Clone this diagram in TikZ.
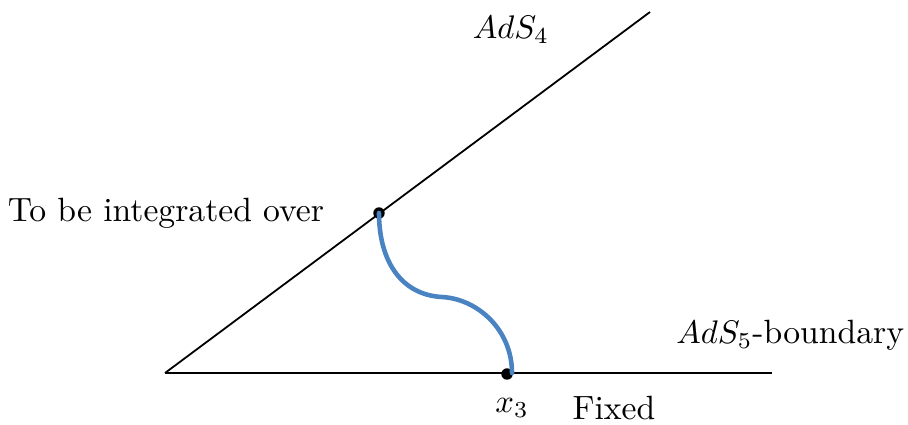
\documentclass[tikz,border=0pt]{standalone}
\usepackage{amsmath,amssymb}
\usepackage{tikz}
\definecolor{curveblue}{RGB}{74,131,193}
\begin{document}
\begin{tikzpicture}[
      x=0.306pt, y=-0.306pt,
      line width=0.55pt,
      dot/.style={circle,fill,inner sep=0pt,minimum size=3.5pt},
      lbl/.style={inner sep=0pt}
    ]
    \useasboundingbox (0,0) rectangle (908,424);
    \coordinate (apex) at (165,373);
    \coordinate (top) at (650,12);
    \coordinate (right) at (772,373);
    \node (p) [dot] at (379,213) {};
    \node (q) [dot] at (507,374) {};
    \coordinate (mid) at (442,297);
    \coordinate (qend) at (512,373);
    \draw (apex) -- (top);
    \draw (apex) -- (right);
    \draw [curveblue, line width=1.4pt, line cap=round]
      (p.center) .. controls (379,262) and (402,295) .. (mid)
      .. controls (478,299) and (512,330) .. (qend);
    \node (ads4) [lbl] at (511,30) {$AdS_4$};
    \node (int) [lbl, anchor=east] at (325,213) {\fontsize{10.3}{12}\selectfont To be integrated over};
    \node (ads5) [lbl, anchor=east] at (905,335) {\fontsize{10.3}{12}\selectfont $AdS_5$-boundary};
    \node (x3) [lbl] at (512,408) {$x_3$};
    \node (fixed) [lbl] at (614,408) {\fontsize{10.3}{12}\selectfont Fixed};
  \end{tikzpicture}
\end{document}
